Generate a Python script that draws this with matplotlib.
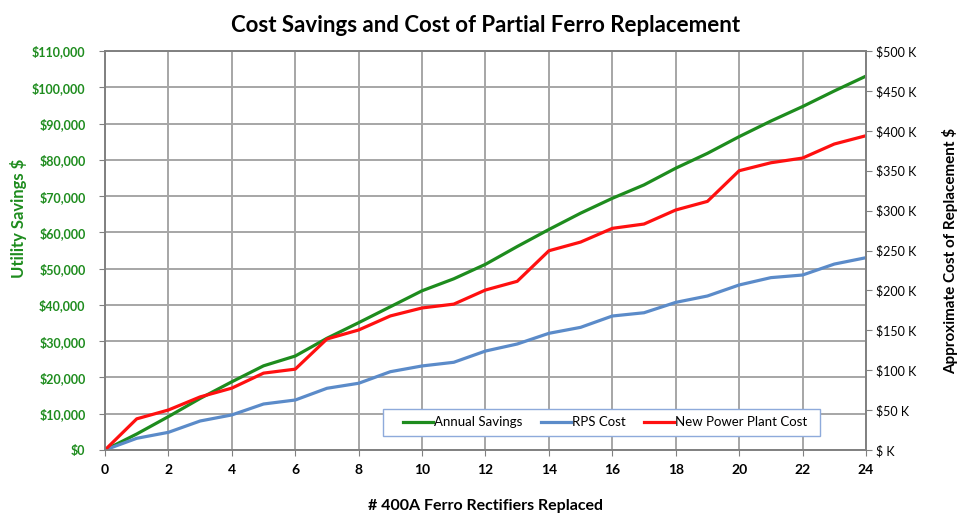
# Imports
import matplotlib
matplotlib.use('Agg')
import matplotlib.pyplot as plt
from matplotlib.patches import Rectangle
from matplotlib.ticker import FuncFormatter, MultipleLocator

# Data
replaced = list(range(25))
annual_savings = [0, 4400, 9200, 14200, 18800, 23200, 25900, 30800, 35100, 39500,
                  43900, 47200, 51200, 56100, 60800, 65300, 69400, 73100, 77700,
                  81800, 86400, 90700, 94700, 99000, 103100]
rps_cost = [0, 14.6, 22.1, 36.3, 43.9, 57.6, 62.6, 77.3, 83.6, 98.1, 105.3, 109.9,
            124.0, 132.8, 146.2, 153.7, 167.9, 172.0, 185.0, 193.0, 206.8, 216.0,
            219.3, 233.0, 241.0]
plant_cost = [0, 39.0, 50.1, 66.5, 77.5, 96.3, 101.3, 139.1, 150.4, 168.0, 178.0,
              182.8, 200.5, 211.4, 249.7, 260.6, 277.8, 283.2, 300.8, 311.6, 350.0,
              360.0, 365.9, 383.5, 393.9]

# Plotting
plt.rcParams['font.family'] = ['Lato', 'DejaVu Sans']
green = '#1e8c1e'
blue = '#5b8bc9'
red = '#ff1010'
grid_col = '#a6a6a6'

fig = plt.figure(figsize=(9.59, 5.16), dpi=100)
ax1 = fig.add_axes([0.1095, 0.128, 0.7935, 0.773])
ax2 = ax1.twinx()

l1, = ax1.plot(replaced, annual_savings, color=green, lw=2.3, label='Annual Savings')
l2, = ax2.plot(replaced, rps_cost, color=blue, lw=2.3, label='RPS Cost')
l3, = ax2.plot(replaced, plant_cost, color=red, lw=2.3, label='New Power Plant Cost')

ax1.set_xlim(0, 24)
ax1.set_ylim(0, 110000)
ax2.set_ylim(0, 500)
ax1.xaxis.set_major_locator(MultipleLocator(2))
ax1.yaxis.set_major_locator(MultipleLocator(10000))
ax2.yaxis.set_major_locator(MultipleLocator(50))
ax1.yaxis.set_major_formatter(FuncFormatter(lambda v, p: '${:,.0f}'.format(v)))
ax2.yaxis.set_major_formatter(FuncFormatter(lambda v, p: '$ K' if v == 0 else '${:.0f} K'.format(v)))

ax1.grid(color=grid_col, lw=1.4)
ax1.set_axisbelow(True)
for ax in (ax1, ax2):
    for s in ax.spines.values():
        s.set_color('#808080')
        s.set_linewidth(1.2)
ax1.tick_params(axis='y', colors=green, labelsize=9, length=4, color='#808080', pad=10)
for t in ax1.get_yticklabels():
    t.set_fontweight('bold')
ax1.tick_params(axis='x', labelsize=10, length=4, color='#808080', pad=6)
for t in ax1.get_xticklabels():
    t.set_fontweight('bold')
ax2.tick_params(axis='y', labelsize=9, length=4, color='#808080')

ax1.set_title('Cost Savings and Cost of Partial Ferro Replacement', fontsize=16,
              fontweight='bold', pad=14)
ax1.set_xlabel('# 400A Ferro Rectifiers Replaced', fontsize=11.5, fontweight='bold', labelpad=17)
ax1.set_ylabel('Utility Savings $', fontsize=12, fontweight='bold', color=green)
ax1.yaxis.set_label_coords(-0.102, 0.58)
ax2.set_ylabel('Approximate Cost of Replacement $', fontsize=11, fontweight='bold')
ax2.yaxis.set_label_coords(1.1, 0.5)

# legend box
ax1.add_patch(Rectangle((0.365, 0.035), 0.575, 0.068, transform=ax1.transAxes,
                        facecolor='white', edgecolor='#8eaadb', lw=1.0, zorder=4))
leg = ax2.legend(handles=[l1, l2, l3], ncol=3, loc='center',
                 bbox_to_anchor=(0.657, 0.069), frameon=False,
                 fontsize=9.5, handlelength=2.3, handletextpad=0.05,
                 columnspacing=1.4, borderaxespad=0)
leg.set_zorder(6)

plt.savefig('out.png', dpi=100)
